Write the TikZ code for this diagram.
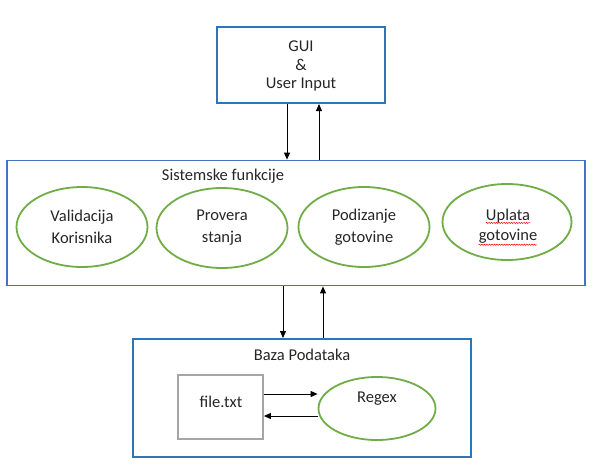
\documentclass[tikz,border=0pt]{standalone}
\usepackage{fontspec}
\setmainfont{Carlito}
\usetikzlibrary{shapes.geometric,arrows.meta,decorations.pathmorphing}
\definecolor{boxblue}{HTML}{2E75B6}
\definecolor{midblue}{HTML}{4472C4}
\definecolor{ellgreen}{HTML}{70AD47}
\definecolor{boxgray}{HTML}{A5A5A5}
\definecolor{txt}{HTML}{262626}
\begin{document}
\begin{tikzpicture}[x=1pt,y=-1pt,
  bluebox/.style={draw=boxblue,line width=2pt,rectangle,inner sep=0pt},
  func/.style={draw=ellgreen,line width=1.8pt,ellipse,inner sep=0pt,minimum width=131pt,minimum height=80pt,align=center,font=\fontsize{16.5}{22}\selectfont,text=txt},
  lbl/.style={font=\fontsize{16.5}{22}\selectfont,text=txt,inner sep=0pt},
  arr/.style={-{Triangle[length=7pt,width=6pt]},line width=0.9pt}]
\useasboundingbox (0,0) rectangle (594,463);
\fill[white] (0,0) rectangle (594,463);
% top box
\node[bluebox,minimum width=168pt,minimum height=76pt] (gui) at (301,65) {};
\node[lbl] (guit) at (301,46) {GUI};
\node[lbl] (amp) at (301,65) {\&};
\node[lbl] (ui) at (301,85) {User Input};
% middle box
\node[draw=midblue,line width=1.8pt,rectangle,inner sep=0pt,minimum width=578pt,minimum height=125pt] (sys) at (296,223) {};
\node[lbl] (syst) at (223,176) {Sistemske funkcije};
\node[func] (val) at (82,227) {Validacija\\Korisnika};
\node[func] (prov) at (222,228) {Provera\\stanja};
\node[func] (pod) at (364,227) {Podizanje\\gotovine};
\node[func,minimum width=129pt,minimum height=76pt] (upl) at (507,222) {};
\node[lbl] (upl1) at (508,216) {Uplata};
\node[lbl] (upl2) at (508,236) {gotovine};
\draw[red,line width=0.5pt,decorate,decoration={snake,amplitude=0.6pt,segment length=2.5pt}]
  ([yshift=-2.5pt]upl1.base west) -- ([yshift=-2.5pt]upl1.base east);
\draw[red,line width=0.5pt,decorate,decoration={snake,amplitude=0.6pt,segment length=2.5pt}]
  ([yshift=-4.5pt]upl2.base west) -- ([yshift=-4.5pt]upl2.base east);
% bottom box
\node[bluebox,minimum width=338pt,minimum height=118pt] (db) at (302,398) {};
\node[lbl] (dbt) at (302,355) {Baza Podataka};
\node[draw=boxgray,line width=1.8pt,rectangle,inner sep=0pt,minimum width=85pt,minimum height=64pt] (file) at (220.5,407) {};
\node[lbl] (filet) at (221,402) {file.txt};
\node[draw=ellgreen,line width=1.8pt,ellipse,inner sep=0pt,minimum width=117pt,minimum height=63pt] (regex) at (377,408.5) {};
\node[lbl] (regext) at (377,399) {Regex};
% arrows
\draw[arr] (gui.south -| 287,0) -- (sys.north -| 287,0);
\draw[arr] (sys.north -| 319,0) -- (gui.south -| 319,0);
\draw[arr] (sys.south -| 283,0) -- (db.north -| 283,0);
\draw[arr] (db.north -| 323,0) -- (sys.south -| 323,0);
\draw[arr] (file.east |- 0,394) -- (regex.west |- 0,394);
\draw[arr] (regex.west |- 0,416) -- (file.east |- 0,416);
\end{tikzpicture}
\end{document}
